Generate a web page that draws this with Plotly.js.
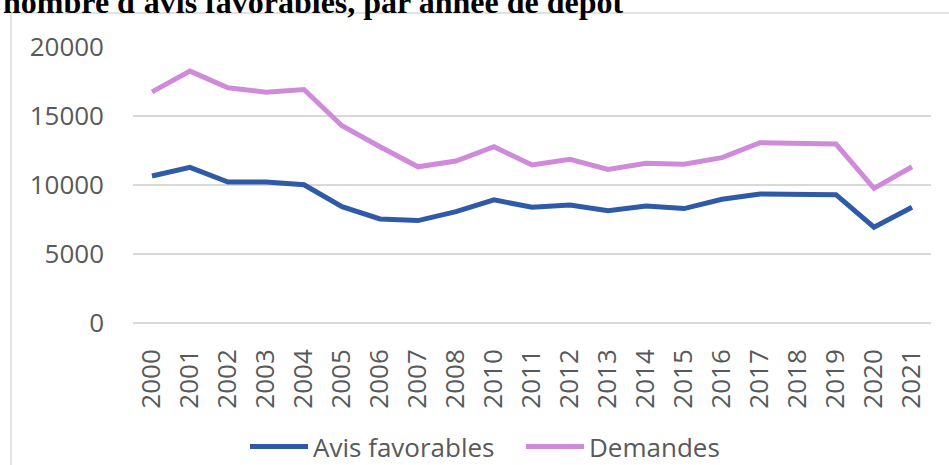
<!DOCTYPE html>
<html>
<head>
<meta charset="utf-8">
<script src="https://cdn.plot.ly/plotly-3.0.1.min.js"></script>
<style>
html,body{margin:0;padding:0;background:#fff;}
#chart{width:949px;height:465px;}
</style>
</head>
<body>
<div id="chart"></div>
<script>
const years = ["2000","2001","2002","2003","2004","2005","2006","2007","2008","2010","2011","2012","2013","2014","2015","2016","2017","2018","2019","2020","2021"];
const avisFavorables = [10650,11280,10220,10220,10020,8430,7540,7420,8070,8920,8390,8550,8140,8480,8290,8970,9350,9300,9300,6940,8390];
const demandes = [16750,18250,17050,16720,16920,14290,12770,11320,11740,12770,11450,11860,11130,11570,11500,11980,13060,13060,12970,9760,11320];
const seriesNames = ["Avis favorables","Demandes"];
const yTicks = [0,5000,10000,15000,20000];
const titleText = "nombre d'avis favorables, par année de dépôt";

const L = 133, R = 18, T = 47, B = 142;
const W = 949, H = 465;
const pw = W - L - R, ph = H - T - B;
const px2x = p => (p - L) / pw;
const px2y = p => (H - B - p) / ph;
const SAMPLE = 58;

const traces = [
  {x: years, y: avisFavorables, name: seriesNames[0], type: 'scatter', mode: 'lines',
   line: {color: '#2E5AA7', width: 5}},
  {x: years, y: demandes, name: seriesNames[1], type: 'scatter', mode: 'lines',
   line: {color: '#CF8BDA', width: 5}}
];

const layout = {
  width: W, height: H,
  margin: {l: L, r: R, t: T, b: B, autoexpand: false},
  paper_bgcolor: '#fff', plot_bgcolor: '#fff',
  showlegend: true,
  xaxis: {
    type: 'category', range: [-0.5, 20.5], tickangle: -90, automargin: false,
    showgrid: false, zeroline: false, showline: false,
    ticks: '', ticklabelstandoff: 20,
    tickfont: {family: 'Open Sans, sans-serif', size: 26, color: '#595959'}
  },
  yaxis: {
    range: [0, 20000], tickvals: yTicks, ticktext: yTicks.map(String), automargin: false,
    showgrid: true, gridcolor: '#D9D9D9', gridwidth: 1.5,
    zeroline: true, zerolinecolor: '#D9D9D9', zerolinewidth: 1.5,
    showline: false, ticks: '', ticklabelstandoff: 28,
    tickfont: {family: 'Open Sans, sans-serif', size: 26, color: '#595959'}
  },
  legend: {
    orientation: 'h', x: px2x(245), xanchor: 'left', y: px2y(423), yanchor: 'top',
    font: {family: 'Open Sans, sans-serif', size: 26, color: '#595959'},
    itemwidth: SAMPLE, tracegroupgap: 0, entrywidth: 203, entrywidthmode: 'pixels'
  },
  shapes: [
    {type: 'rect', xref: 'paper', yref: 'paper', x0: px2x(11), x1: px2x(1000), y0: px2y(13), y1: px2y(520),
     line: {color: '#D9D9D9', width: 1.5}, fillcolor: 'rgba(0,0,0,0)', layer: 'below'}
  ],
  annotations: [
    {text: '<b>' + titleText + '</b>', xref: 'paper', yref: 'paper', x: px2x(1), y: px2y(22), xanchor: 'left', yanchor: 'bottom',
     showarrow: false, font: {family: 'Liberation Serif, Times New Roman, serif', size: 32, color: '#000'}}
  ]
};

Plotly.newPlot('chart', traces, layout, {displayModeBar: false, staticPlot: true}).then(gd => {
  // lengthen the legend line samples as in the reference
  gd.querySelectorAll('.legend .legendlines path').forEach(p => {
    p.setAttribute('d', 'M5,0h' + SAMPLE);
  });
});
</script>
</body>
</html>
